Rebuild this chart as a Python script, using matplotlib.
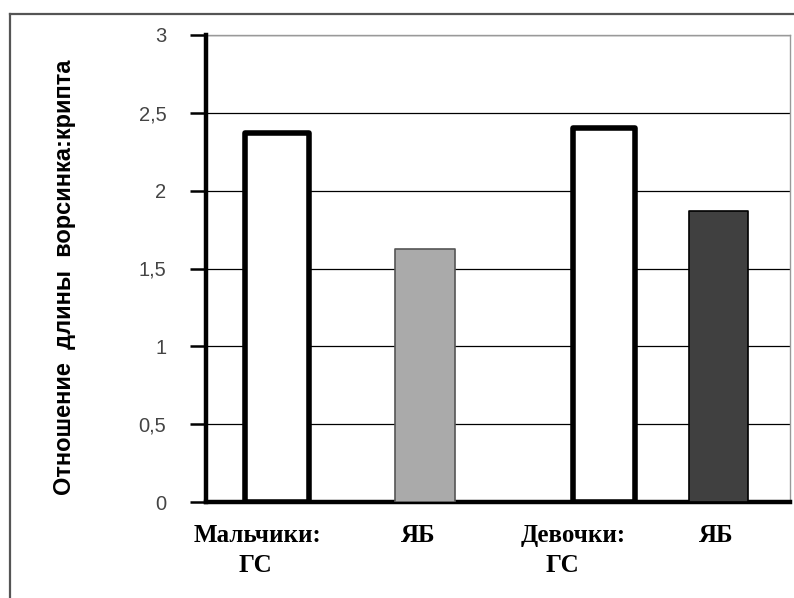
import matplotlib.pyplot as plt
from matplotlib.lines import Line2D

# -----------------------------------------------------------
# DATA
# -----------------------------------------------------------

categories = ["Мальчики:\nГС", "ЯБ", "Девочки:\nГС", "ЯБ"]
ratios = [2.37, 1.625, 2.40, 1.87]
y_ticks = [0, 0.5, 1, 1.5, 2, 2.5, 3]
y_tick_labels = ["0", "0,5", "1", "1,5", "2", "2,5", "3"]
y_title = "Отношение  длины  ворсинка:крипта"

# bar layout (not data)
positions = [0.1224, 0.375, 0.681, 0.8776]
widths = [0.1096, 0.103, 0.106, 0.101]
fills = ["white", "#aaaaaa", "white", "#404040"]
edges = ["black", "#555555", "black", "black"]
edge_w = [4.0, 1.2, 4.0, 1.2]
label_x1 = [0.089, 0.363, 0.628, 0.873]
label_x2 = [0.084, None, 0.611, None]

# -----------------------------------------------------------
# PLOT
# -----------------------------------------------------------

fig = plt.figure(figsize=(7.94, 5.98), dpi=100)
ax = fig.add_axes([206 / 794, 96 / 598, 584 / 794, 467 / 598])

ax.set_xlim(0, 1)
ax.set_ylim(0, 3)

for y in y_ticks[1:]:
    ax.axhline(y, color="black", linewidth=0.9, zorder=1)

for x, w, v, fc, ec, lw in zip(positions, widths, ratios, fills, edges, edge_w):
    ax.bar(x, v, width=w, color=fc, edgecolor=ec, linewidth=lw,
           joinstyle="round", zorder=3)

ax.set_yticks(y_ticks)
ax.set_yticklabels(y_tick_labels, fontsize=14.5, color="#444444",
                   family="Liberation Sans")
ax.tick_params(axis="y", length=11.5, width=1.8, pad=17, color="black")
ax.set_xticks([])

for side in ["top", "right"]:
    ax.spines[side].set_color("#999999")
    ax.spines[side].set_linewidth(1.0)
ax.spines["left"].set_linewidth(3.2)
ax.spines["bottom"].set_linewidth(3.2)
ax.spines["left"].set_zorder(4)

for x1, x2, lab in zip(label_x1, label_x2, categories):
    lines = lab.split("\n")
    ax.text(x1, -0.0707, lines[0], transform=ax.transAxes, ha="center",
            va="center", fontsize=18, fontweight="bold",
            family="Liberation Serif", clip_on=False)
    if len(lines) > 1:
        ax.text(x2, -0.135, lines[1], transform=ax.transAxes, ha="center",
                va="center", fontsize=18, fontweight="bold",
                family="Liberation Serif", clip_on=False)

fig.text(65 / 794, 1 - 277 / 598, y_title, rotation=90, ha="center",
         va="center", fontsize=17, fontweight="bold", family="Liberation Sans")

# outer frame of the pasted chart
fig.add_artist(Line2D([10 / 794, 1], [1 - 14 / 598] * 2, color="#555555",
                      linewidth=1.6, transform=fig.transFigure))
fig.add_artist(Line2D([10 / 794] * 2, [0, 1 - 14 / 598], color="#555555",
                      linewidth=1.6, transform=fig.transFigure))

fig.savefig("out.png", dpi=100)
